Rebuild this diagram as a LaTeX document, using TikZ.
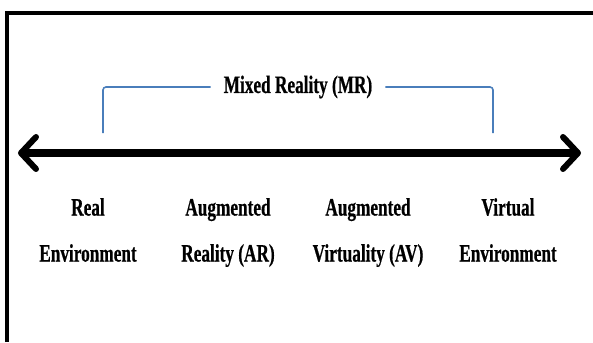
\documentclass[tikz,border=0pt]{standalone}
\usepackage{fontspec}
\newfontfamily\labelfont{Liberation Serif}[FakeStretch=0.69, BoldFeatures={FakeBold=0.6}]
\usetikzlibrary{arrows.meta,positioning}
\definecolor{mrblue}{RGB}{74,126,187}
\tikzset{
  frame/.style={line width=4pt},
  axis/.style={{Straight Barb[length=15pt,width=32pt,line width=6pt,round]}-{Straight Barb[length=15pt,width=32pt,line width=6pt,round]}, line width=8pt},
  bracket/.style={mrblue, line width=1.6pt, rounded corners=3pt},
  term/.style={font=\labelfont\bfseries\fontsize{25}{46}\selectfont, align=center, inner sep=0pt},
}

\begin{document}
\begin{tikzpicture}[x=1pt,y=-1pt]
  \useasboundingbox (0,0) rectangle (593,342);

  % Frame (only top and left edges show)
  \draw[frame] (7,342) -- (7,13) -- (593,13);

  % Continuum axis
  \coordinate (lo) at (18,153);
  \coordinate (hi) at (581,153);
  \draw[axis] (lo) -- (hi);

  % Mixed reality span
  \node[term, inner xsep=13pt] (mr) at (298,87) {Mixed Reality (MR)};
  \coordinate (mrlo) at (103,133);
  \coordinate (mrhi) at (493,133);
  \draw[bracket] (mrlo) |- (mr.west);
  \draw[bracket] (mr.east) -| (mrhi);

  % Stages along the continuum, tops of first lines aligned
  \node[term, anchor=north] (real)    at (88,198)  {Real\\Environment};
  \node[term, anchor=north] (ar)      at (228,198) {Augmented\\Reality (AR)};
  \node[term, anchor=north] (av)      at (368,198) {Augmented\\Virtuality (AV)};
  \node[term, anchor=north] (virtual) at (508,198) {Virtual\\Environment};
\end{tikzpicture}
\end{document}
